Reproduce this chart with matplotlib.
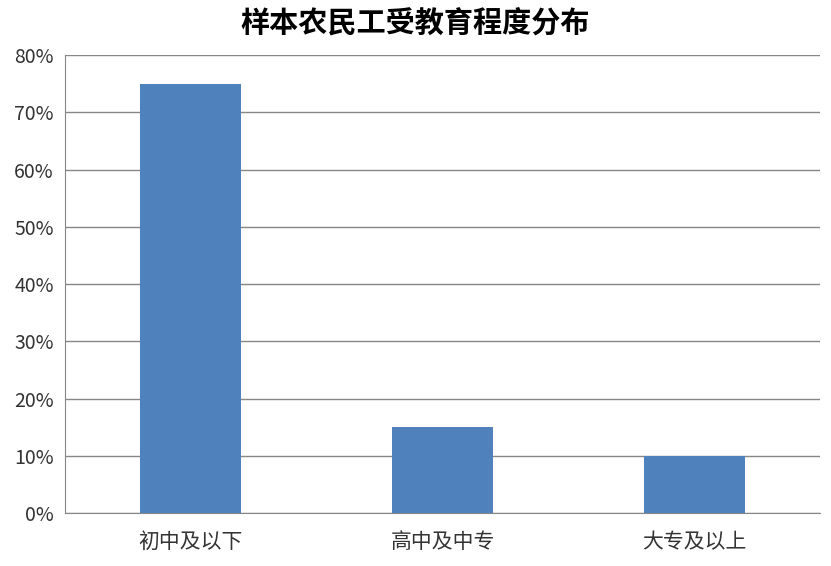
import matplotlib.pyplot as plt
from matplotlib.ticker import PercentFormatter

categories = ["初中及以下", "高中及中专", "大专及以上"]
shares = [75, 15, 10]
y_ticks = list(range(0, 81, 10))

plt.rcParams["font.family"] = ["Noto Sans CJK SC", "DejaVu Sans"]

fig = plt.figure(figsize=(8.31, 5.66), dpi=100)
ax = fig.add_axes([0.0782, 0.0936, 0.9086, 0.8092])

ax.bar(range(len(categories)), shares, width=0.4, color="#4F81BD", zorder=3)

ax.set_xlim(-0.5, len(categories) - 0.5)
ax.set_ylim(0, 80)
ax.set_yticks(y_ticks)
ax.yaxis.set_major_formatter(PercentFormatter(decimals=0))
ax.set_xticks(range(len(categories)))
ax.set_xticklabels(categories, fontsize=15, color="#333333")
ax.tick_params(axis="y", labelsize=14, colors="#333333", length=0, pad=8)
ax.tick_params(axis="x", length=0, pad=13)

ax.grid(axis="y", color="#868686", lw=1, zorder=0)
for side in ["top", "right"]:
    ax.spines[side].set_visible(False)
ax.spines["left"].set_color("#868686")
ax.spines["bottom"].set_color("#868686")

fig.suptitle("样本农民工受教育程度分布", fontsize=21, fontweight="bold", y=0.985)

fig.savefig("out.png", dpi=100)
